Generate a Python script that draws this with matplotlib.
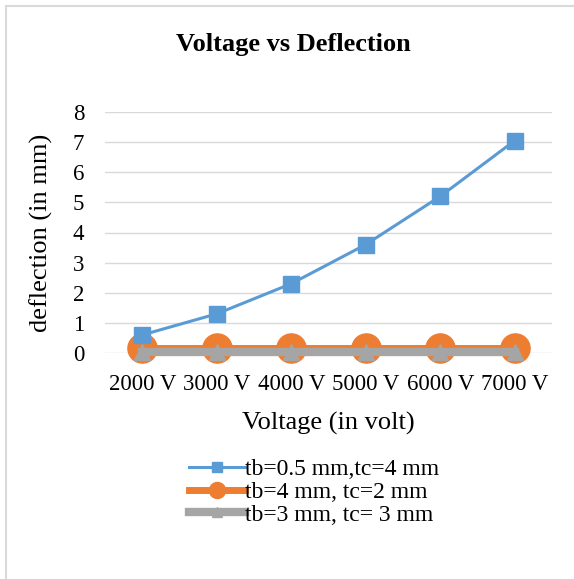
import matplotlib.pyplot as plt
from matplotlib.patches import Rectangle

voltages = ["2000 V", "3000 V", "4000 V", "5000 V", "6000 V", "7000 V"]
defl_05_4 = [0.6, 1.3, 2.3, 3.6, 5.2, 7.05]
defl_4_2 = [0.15, 0.15, 0.15, 0.15, 0.15, 0.15]
defl_3_3 = [0.03, 0.03, 0.03, 0.03, 0.03, 0.03]

plt.rcParams['font.family'] = ['Liberation Serif', 'DejaVu Serif']

fig = plt.figure(figsize=(5.74, 5.79), dpi=100)
# light grey frame of the chart area (only left/top edges visible in the crop)
fig.patches.append(Rectangle((6 / 574, -0.5), 2, 1.5 - 6 / 579,
                             transform=fig.transFigure, fill=False,
                             edgecolor='#d9d9d9', linewidth=1.5))

ax = fig.add_axes([105 / 574, 1 - 353 / 579, 447 / 574, 241 / 579])
x = range(len(voltages))

ax.plot(x, defl_4_2, color='#ED7D31', linewidth=5, marker='o', markersize=21,
        clip_on=False, zorder=3, label='tb=4 mm, tc=2 mm')
ax.plot(x, defl_3_3, color='#A5A5A5', linewidth=6, marker='^', markersize=12,
        clip_on=False, zorder=4, label='tb=3 mm, tc= 3 mm')
ax.plot(x, defl_05_4, color='#5B9BD5', linewidth=2.2, marker='s', markersize=12,
        clip_on=False, zorder=5, label='tb=0.5 mm,tc=4 mm')

ax.set_xlim(-0.5, 5.5)
ax.set_ylim(0, 8)
ax.set_xticks(list(x))
ax.set_xticklabels(voltages, fontsize=16.5)
ax.set_yticks(range(9))
ax.tick_params(axis='y', labelsize=16.5, length=0, pad=15)
ax.tick_params(axis='x', length=0, pad=15)
ax.grid(axis='y', color='#d9d9d9', linewidth=1)
ax.set_axisbelow(True)
for s in ax.spines.values():
    s.set_visible(False)

fig.text(293 / 574, 1 - 44 / 579, 'Voltage vs Deflection', fontsize=19,
         fontweight='bold', ha='center', va='center')
ax.set_ylabel('deflection (in mm)', fontsize=19)
ax.yaxis.set_label_coords(-52 / 447, 0.5)
ax.set_xlabel('Voltage (in volt)', fontsize=19, labelpad=12)

handles, labels = ax.get_legend_handles_labels()
order = [2, 0, 1]
fig.legend([handles[i] for i in order], [labels[i] for i in order],
           loc='upper left', bbox_to_anchor=(177 / 574, 1 - 447 / 579),
           frameon=False, fontsize=17, handlelength=2.4, handletextpad=0.0,
           labelspacing=0.05, markerscale=0.55, borderpad=0)

fig.savefig('out.png', dpi=100)
